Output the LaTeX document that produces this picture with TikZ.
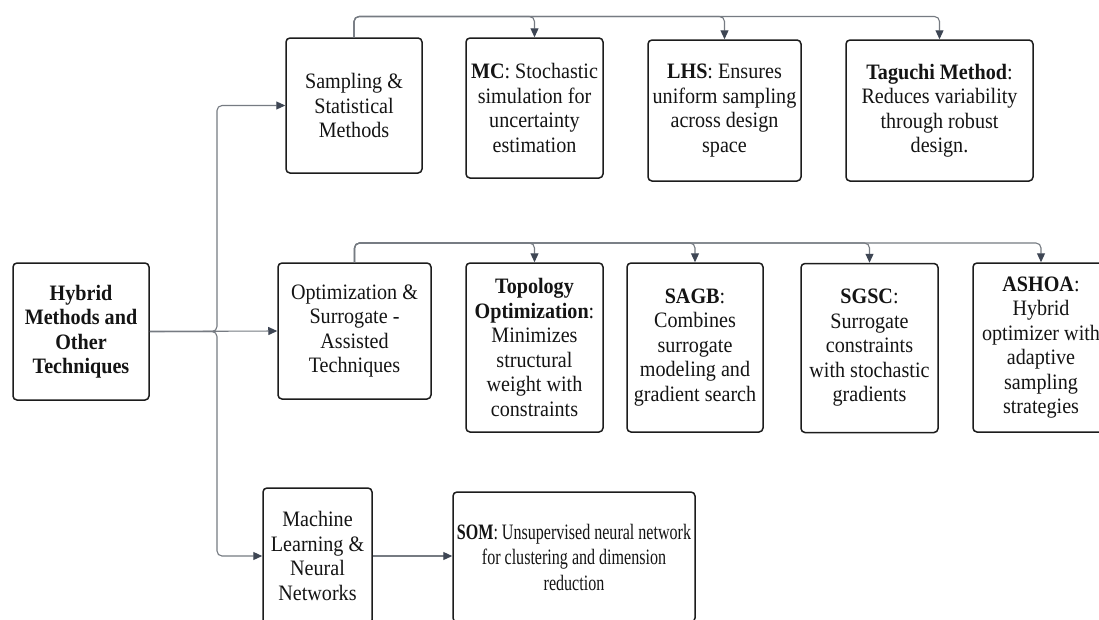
\documentclass[tikz,border=0pt]{standalone}
\usepackage{fontspec}
\setmainfont[FakeStretch=0.915]{Liberation Serif}
\newfontfamily\narrowserif[FakeStretch=0.73]{Liberation Serif}
\usetikzlibrary{arrows.meta}
\definecolor{linec}{RGB}{118,123,130}
\definecolor{tipc}{RGB}{62,70,84}
\definecolor{boxc}{RGB}{28,28,28}
\definecolor{txtc}{RGB}{20,20,20}
\newcommand\boxfont{\fontsize{22}{24.5}\selectfont}
\tikzset{
  box/.style={draw=boxc, line width=1.5pt, rounded corners=4pt, align=center,
    inner sep=0pt, text=txtc, font=\boxfont},
  link/.style={draw=linec, line width=1.1pt, rounded corners=5pt},
  conn/.style={link, -{Triangle[length=9pt,width=8pt,color=tipc,fill=tipc]}}
}
\begin{document}
\begin{tikzpicture}[x=1pt,y=-1pt]
\clip (0,0) rectangle (1099,619);
\fill[white] (0,0) rectangle (1099,619);

% root
\node[box, minimum width=136pt, minimum height=137pt] (hyb) at (81,331.5)
  {\textbf{Hybrid}\\\textbf{Methods and}\\\textbf{Other}\\\textbf{Techniques}};

% sampling branch
\node[box, minimum width=136pt, minimum height=135pt] (samp) at (354,105.5)
  {Sampling \&\\Statistical\\Methods};
\node[box, minimum width=137pt, minimum height=140pt] (mc) at (534.5,108)
  {\textbf{MC}: Stochastic\\simulation for\\uncertainty\\estimation};
\node[box, minimum width=153pt, minimum height=141pt] (lhs) at (724.5,110.5)
  {\textbf{LHS}: Ensures\\uniform sampling\\across design\\space};
\node[box, minimum width=187pt, minimum height=141pt] (tag) at (939.5,110.5)
  {\textbf{Taguchi Method}:\\Reduces variability\\through robust\\design.};

% optimization branch
\node[box, minimum width=153pt, minimum height=136pt] (opt) at (354.5,331)
  {Optimization \&\\Surrogate -\\Assisted\\Techniques};
\node[box, minimum width=137pt, minimum height=169pt] (topo) at (534.5,347.5)
  {\textbf{Topology}\\\textbf{Optimization}:\\Minimizes\\structural\\weight with\\constraints};
\node[box, minimum width=136pt, minimum height=169pt] (sagb) at (695,347.5)
  {\textbf{SAGB}:\\Combines\\surrogate\\modeling and\\gradient search};
\node[box, minimum width=137pt, minimum height=169pt] (sgsc) at (869.5,348)
  {\textbf{SGSC}:\\Surrogate\\constraints\\with stochastic\\gradients};
\node[box, minimum width=136pt, minimum height=169pt] (asho) at (1041,347.5)
  {\textbf{ASHOA}:\\Hybrid\\optimizer with\\adaptive\\sampling\\strategies};

% machine learning branch
\node[box, minimum width=109pt, minimum height=136pt] (ml) at (317.5,556)
  {Machine\\Learning \&\\Neural\\Networks};
\node[box, minimum width=242pt, minimum height=130pt,
      font=\narrowserif\fontsize{22}{25.5}\selectfont] (som) at (574,557)
  {\textbf{SOM}: Unsupervised neural network\\for clustering and dimension\\reduction};

% routing levels
\coordinate (vx) at (217,0);
\coordinate (topA) at (0,16.5);
\coordinate (topB) at (0,243);

% root to branches
\draw[conn] (hyb.east) -- (hyb.east -| vx) |- (samp.west);
\draw[conn] (hyb.east) -- (opt.west);
\draw[conn] (hyb.east) -- (hyb.east -| vx) |- (ml.west);

% sampling fan-out
\draw[conn] (samp.north) -- (samp.north |- topA) -| (mc.north);
\draw[conn] (samp.north) -- (samp.north |- topA) -| (lhs.north);
\draw[conn] (samp.north) -- (samp.north |- topA) -| (tag.north);

% optimization fan-out
\draw[conn] (opt.north) -- (opt.north |- topB) -| (topo.north);
\draw[conn] (opt.north) -- (opt.north |- topB) -| (sagb.north);
\draw[conn] (opt.north) -- (opt.north |- topB) -| (sgsc.north);
\draw[conn] (opt.north) -- (opt.north |- topB) -| (asho.north);

% machine learning to SOM
\draw[conn] (ml.east) -- (som.west |- ml.east);
\end{tikzpicture}
\end{document}
